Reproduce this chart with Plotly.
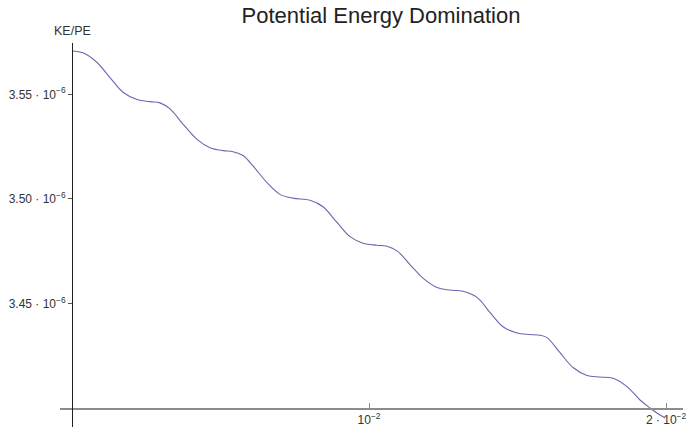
import plotly.graph_objects as go

# values
ratio_x = [0.0, 0.000370, 0.000842, 0.001279, 0.001717, 0.002189, 0.002626, 0.002963,
           0.003300, 0.003737, 0.004209, 0.004646, 0.005084, 0.005421, 0.005758, 0.006094,
           0.006566, 0.007003, 0.007441, 0.008013, 0.008451, 0.008923, 0.009360, 0.009798,
           0.010269, 0.010606, 0.010943, 0.011380, 0.011818, 0.012290, 0.012727, 0.013165,
           0.013636, 0.014074, 0.014512, 0.014983, 0.015421, 0.015758, 0.015993, 0.016431,
           0.016869, 0.017340, 0.017778, 0.018215, 0.018687, 0.019125, 0.019461, 0.019798,
           0.019966]
ratio_y = [3.5707e-6, 3.5698e-6, 3.5652e-6, 3.5580e-6, 3.5510e-6, 3.5475e-6, 3.5465e-6, 3.5459e-6,
           3.5430e-6, 3.5358e-6, 3.5285e-6, 3.5245e-6, 3.5231e-6, 3.5226e-6, 3.5208e-6, 3.5158e-6,
           3.5078e-6, 3.5022e-6, 3.5004e-6, 3.4994e-6, 3.4963e-6, 3.4888e-6, 3.4820e-6, 3.4789e-6,
           3.4779e-6, 3.4774e-6, 3.4752e-6, 3.4687e-6, 3.4622e-6, 3.4577e-6, 3.4565e-6, 3.4559e-6,
           3.4530e-6, 3.4458e-6, 3.4390e-6, 3.4360e-6, 3.4353e-6, 3.4349e-6, 3.4338e-6, 3.4266e-6,
           3.4195e-6, 3.4157e-6, 3.4150e-6, 3.4144e-6, 3.4104e-6, 3.4040e-6, 3.4002e-6, 3.3968e-6,
           3.3954e-6]

x_tick_vals = [0.01, 0.02]
x_tick_text = ["10<sup>\u22122</sup>", "2 \u00b7 10<sup>\u22122</sup>"]
y_tick_vals = [3.45e-6, 3.50e-6, 3.55e-6]
y_tick_text = ["3.45 \u00b7 10<sup>\u22126</sup>", "3.50 \u00b7 10<sup>\u22126</sup>",
               "3.55 \u00b7 10<sup>\u22126</sup>"]

title_text = "Potential Energy Domination"
y_label = "KE/PE"

W, H = 686, 427
L, R, T, B = 60, 3, 43, 0
x_min, x_max = -0.000404, 0.020572
y_min, y_max = 3.3911e-6, 3.5745e-6
axis_y = 3.40e-6
axis_x = 0.0

fig = go.Figure()
fig.add_trace(go.Scatter(x=ratio_x, y=ratio_y, mode="lines",
                         line=dict(color="#6868b0", width=1.1, shape="spline", smoothing=1.0),
                         hoverinfo="skip", showlegend=False, cliponaxis=True))

x_pos = (axis_y - y_min) / (y_max - y_min)
y_pos = (axis_x - x_min) / (x_max - x_min)

fig.update_layout(
    width=W, height=H,
    margin=dict(l=L, r=R, t=T, b=B, pad=0, autoexpand=False),
    paper_bgcolor="white", plot_bgcolor="white",
    font=dict(family="Liberation Sans, Arial, sans-serif", color="#333333", size=12),
    title=dict(text=title_text, x=381 / W, xref="container", xanchor="center",
               y=1 - 15 / H, yref="container", yanchor="middle",
               font=dict(size=22, color="#222222")),
    xaxis=dict(range=[x_min, x_max], anchor="free", position=x_pos, automargin=False,
               showgrid=False, zeroline=False, showline=True, linecolor="#8c8c8c", linewidth=1.2,
               tickmode="array", tickvals=x_tick_vals, ticktext=x_tick_text,
               ticks="inside", ticklen=5, tickcolor="#8c8c8c", tickwidth=1,
               ticklabeloverflow="allow",
               tickfont=dict(size=12, color="#333333")),
    yaxis=dict(range=[y_min, y_max], anchor="free", position=y_pos, automargin=False,
               showgrid=False, zeroline=False, showline=True, linecolor="#222222", linewidth=1.2,
               tickmode="array", tickvals=y_tick_vals, ticktext=y_tick_text,
               ticks="outside", ticklen=4, tickcolor="#555555", tickwidth=1,
               ticklabeloverflow="allow",
               tickfont=dict(size=12, color="#333333")),
    annotations=[dict(text=y_label, xref="x", yref="paper", x=0.0, y=1.0,
                      xanchor="center", yanchor="bottom", yshift=3, showarrow=False,
                      font=dict(size=12.5, color="#333333"))],
)

fig.write_html("out.html", config={"displayModeBar": False, "staticPlot": True},
               post_script="document.body.style.margin='0';document.body.style.overflow='hidden';")
